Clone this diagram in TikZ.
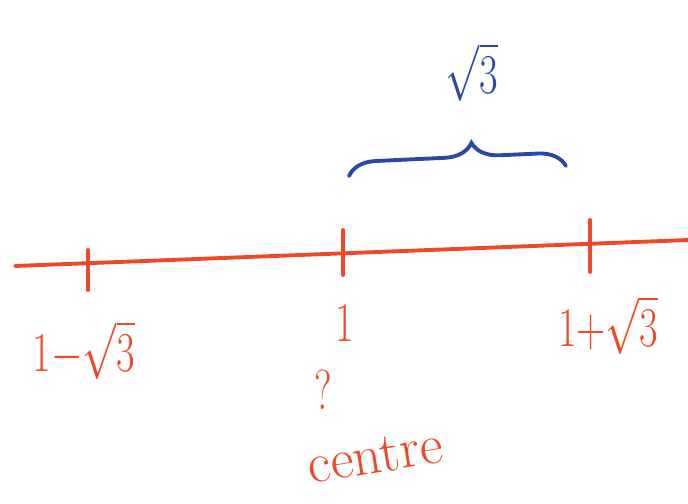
\RequirePackage{fix-cm}
\documentclass[tikz,border=0pt]{standalone}
\usepackage{amsmath, amssymb}
\usepackage{xcolor}
\usepackage{tikz}
\usetikzlibrary{positioning}
\usetikzlibrary{decorations.pathreplacing}
\definecolor{penred}{RGB}{240,72,38}
\definecolor{penblue}{RGB}{40,72,170}
\tikzset{every node/.style={font=\small}}
\newcommand{\narrow}[1]{\scalebox{0.72}[1]{#1}}

\begin{document}
\begin{tikzpicture}[
x=0.02cm, y=-0.02cm,
axis/.style={draw=penred, line width=2.2pt, line cap=round},
tick/.style={draw=penred, line width=2.2pt, line cap=round},
lbl/.style={text=penred, inner sep=0pt, font=\fontsize{32}{36}\selectfont},
bracelbl/.style={text=penblue, inner sep=0pt, font=\fontsize{32}{36}\selectfont}
]
\useasboundingbox (0,0) rectangle (688,503);

\coordinate (left) at (15,266);
\coordinate (right) at (688,240);
\draw[axis] (left) -- (right);

% ticks
\coordinate (ta) at (88,250);   \coordinate (tb) at (88,290);
\coordinate (tc) at (343,230);  \coordinate (td) at (343,275);
\coordinate (te) at (590,220);  \coordinate (tf) at (590,272);
\draw[tick] (ta) -- (tb);
\draw[tick] (tc) -- (td);
\draw[tick] (te) -- (tf);

\node[lbl] (lo) at (84,350) {\narrow{$1{-}\sqrt{3}$}};
\node[lbl] (mid) at (345,323) {\narrow{$1$}};
\node[lbl] (hi) at (608,325) {\narrow{$1{+}\sqrt{3}$}};

\node[lbl] (quest) at (323,390) {\narrow{?}};
\node[lbl, rotate=9] (centre) at (375,456) {centre};

% brace over the right half
\coordinate (ba) at (349,176);
\coordinate (bb) at (566,166);
\draw[draw=penblue, line width=2.2pt, line cap=round,
  decorate, decoration={brace, amplitude=0.55cm, aspect=0.57}] (ba) -- (bb);
\node[bracelbl] (root) at (472,72) {\narrow{$\sqrt{3}$}};
\end{tikzpicture}
\end{document}
